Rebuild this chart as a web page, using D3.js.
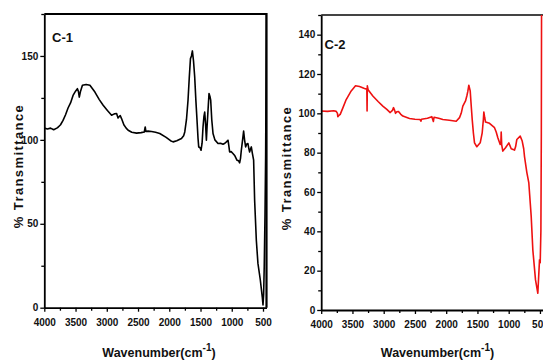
<!DOCTYPE html>
<html><head><meta charset="utf-8">
<script src="https://cdn.jsdelivr.net/npm/d3@7"></script>
<style>body{margin:0;background:#fff} svg{display:block}</style>
</head><body>
<script>
// ---- Data ----
const c1Wave = [4000,3950,3900,3850,3800,3780,3740,3700,3660,3620,3580,3540,3500,3470,3455,3440,3420,3390,3330,3270,3190,3120,3058,2990,2923,2880,2843,2820,2807,2785,2764,2727,2690,2658,2600,2524,2450,2400,2385,2375,2340,2284,2220,2152,2050,1980,1939,1880,1805,1770,1752,1725,1700,1680,1661,1645,1630,1612,1593,1575,1556,1540,1529,1510,1492,1475,1460,1445,1433,1420,1406,1395,1380,1364,1350,1337,1320,1300,1270,1220,1180,1140,1110,1086,1060,1045,1034,1010,981,950,917,890,874,860,847,830,810,795,778,760,741,725,714,700,687,670,650,634,607,581,543,512,500,490,480,468,458,450,444];
const c1Trans = [107,106.5,107,106,107,107.5,109,111.6,115,119,122,126.5,129,130.5,129,125.5,129,132.5,133,132.5,128.5,124,120.6,117.5,114.7,115.5,115.7,113,113.6,114.5,112.7,109,107,105.7,104.5,104,104.3,104.7,107.7,105,105.2,105,104.5,103.8,101.5,99.5,98.8,99.5,100.8,102.5,104.7,112,123.6,137,148.4,150,153,147,137.5,124,111.7,101,95.8,95.5,93.8,98,107.7,114,116.6,110,99.8,108,117.6,127.6,126,123.6,112,103.8,100,97.8,98,97.4,98,98.8,99.8,96,92.8,93,91.9,90.5,87.9,87.5,86.3,89,93.8,99,105.3,100,95.8,97.5,97.8,94.5,92.8,94.5,95.8,92,87.9,64,40.3,26.4,16.5,6.5,1.6,8,25,55,90,140,180];

const c2Wave = [4000,3900,3800,3760,3740,3734,3715,3696,3650,3600,3520,3451,3387,3307,3270,3266,3262,3250,3174,3090,3014,2950,2896,2860,2843,2825,2811,2790,2763,2730,2694,2587,2500,2420,2405,2395,2300,2230,2205,2195,2120,2054,1950,1840,1787,1760,1734,1691,1670,1655,1638,1616,1600,1584,1565,1547,1510,1456,1424,1405,1398,1385,1371,1307,1227,1200,1174,1136,1125,1120,1112,1094,1051,998,960,907,890,870,816,784,760,747,710,678,640,614,571,534,507,496,485,478,474];
const c2Trans = [101.2,101,101.3,101,100,98.3,99,99.5,103,107,111.4,114,113.6,112.6,112.2,101.2,114,112,108.8,106,103.7,102,100.4,101.5,102.9,101.5,100,100.8,100.9,99.6,98.6,97.4,97,96.9,96,97,97.5,98.3,95.9,98,97.5,96.9,96.5,96,97.8,100,103.7,106.3,108.8,111,114.3,111.4,104,96.9,90,85,83,85,90.1,97,100.7,98,95.6,94.9,92.7,90.5,87.6,84.2,85,90.5,84,80.8,82.5,85,82,81.3,83,86.7,88.4,85.9,82,78,70,64.6,47.6,30.6,15.3,8.5,25.5,24,40,90,160];

const xTicks = [4000,3500,3000,2500,2000,1500,1000,500];
const xMinor = [3750,3250,2750,2250,1750,1250,750];
const y1Ticks = [0,50,100,150];
const y1Minor = [25,75,125,175];
const y2Ticks = [0,20,40,60,80,100,120,140];
const y2Minor = [10,30,50,70,90,110,130,150];

const W = 543, H = 362;
const svg = d3.select("body").append("svg").attr("width", W).attr("height", H);
const narrow = "'Liberation Sans Narrow','Arial Narrow','Liberation Sans',Arial,sans-serif";
const wide = "'Liberation Sans',Arial,sans-serif";
const fmt = d3.format("d");

function panel(cfg) {
  const g = svg.append("g");
  const x = d3.scaleLinear().domain(cfg.xDomain).range(cfg.xRange);
  const y = d3.scaleLinear().domain(cfg.yDomain).range(cfg.yRange);
  const [x0, x1] = cfg.xRange, [yb, yt] = cfg.yRange;
  const clipId = "clip" + cfg.id;
  svg.append("clipPath").attr("id", clipId).append("rect")
    .attr("x", x0).attr("y", yt).attr("width", x1 - x0).attr("height", yb - yt);

  cfg.frame(g, x0, x1, yt, yb);

  const pts = cfg.wave.map((w, i) => [w, cfg.trans[i]]);
  g.append("path").datum(pts)
    .attr("clip-path", `url(#${clipId})`)
    .attr("fill", "none").attr("stroke", cfg.color).attr("stroke-width", 1.6)
    .attr("stroke-linejoin", "round")
    .attr("d", d3.line().x(d => x(d[0])).y(d => y(d[1])));

  g.append("g").attr("transform", `translate(0,${yb})`)
    .call(d3.axisBottom(x).tickValues(xMinor).tickSize(3).tickSizeOuter(0).tickFormat(""))
    .call(a => a.select(".domain").remove())
    .call(a => a.selectAll("line").attr("stroke-width", 1.3));
  g.append("g").attr("transform", `translate(0,${yb})`)
    .call(d3.axisBottom(x).tickValues(xTicks).tickSize(4).tickSizeOuter(0).tickPadding(7).tickFormat(fmt))
    .call(a => a.select(".domain").attr("stroke-width", 1.8))
    .call(a => a.selectAll("line").attr("stroke-width", 1.3))
    .call(a => a.selectAll("text").attr("font-family", narrow).attr("font-weight", "bold").attr("font-size", 10).attr("fill", "#111"));

  g.append("g").attr("transform", `translate(${x0},0)`)
    .call(d3.axisLeft(y).tickValues(cfg.yMinor).tickSize(3).tickSizeOuter(0).tickFormat(""))
    .call(a => a.select(".domain").remove())
    .call(a => a.selectAll("line").attr("stroke-width", 1.3));
  g.append("g").attr("transform", `translate(${x0},0)`)
    .call(d3.axisLeft(y).tickValues(cfg.yTicks).tickSize(4).tickSizeOuter(0).tickPadding(2).tickFormat(fmt))
    .call(a => a.select(".domain").attr("stroke-width", 1.8))
    .call(a => a.selectAll("line").attr("stroke-width", 1.3))
    .call(a => a.selectAll("text").attr("font-family", narrow).attr("font-weight", "bold").attr("font-size", 10).attr("fill", "#111"));

  g.append("text").attr("x", cfg.labelPos[0]).attr("y", cfg.labelPos[1])
    .attr("font-family", narrow).attr("font-weight", "bold").attr("font-size", 13)
    .attr("fill", "#111").text(cfg.label);

  const xt = g.append("text").attr("x", cfg.xTitlePos[0]).attr("y", cfg.xTitlePos[1])
    .attr("text-anchor", "middle").attr("font-family", narrow).attr("font-weight", "bold")
    .attr("font-size", 12.5).attr("fill", "#111");
  xt.append("tspan").text("Wavenumber(cm");
  xt.append("tspan").attr("dy", -6).attr("font-size", 10).text("-1");
  xt.append("tspan").attr("dy", 6).text(")");

  g.append("text").attr("transform", `translate(${cfg.yTitlePos[0]},${cfg.yTitlePos[1]}) rotate(-90)`)
    .attr("text-anchor", "middle").attr("font-family", wide).attr("font-weight", "bold")
    .attr("font-size", 13).attr("letter-spacing", 1.4).attr("fill", "#111")
    .text("% Transmittance");
}

panel({
  id: 1, wave: c1Wave, trans: c1Trans, color: "#000",
  xDomain: [4000, 444], xRange: [44.3, 266.5],
  yDomain: [0, 175], yRange: [307.7, 14],
  yTicks: y1Ticks, yMinor: y1Minor,
  label: "C-1", labelPos: [52, 41.5],
  xTitlePos: [159, 357], yTitlePos: [23, 166],
  frame: (g, x0, x1, yt, yb) => {
    g.append("path").attr("d", `M${x0},${yt}H${x1}V${yb}`)
      .attr("fill", "none").attr("stroke", "#000").attr("stroke-width", 2.2);
  }
});

panel({
  id: 2, wave: c2Wave, trans: c2Trans, color: "#ee1111",
  xDomain: [4000, 400], xRange: [321.2, 546.2],
  yDomain: [0, 150], yRange: [310, 15],
  yTicks: y2Ticks, yMinor: y2Minor,
  label: "C-2", labelPos: [324.5, 48.5],
  xTitlePos: [437.5, 357], yTitlePos: [291, 168],
  frame: (g, x0, x1, yt, yb) => {
    g.append("path").attr("d", `M${x0},${yt}H${x1}`)
      .attr("fill", "none").attr("stroke", "#444").attr("stroke-width", 1.8);
  }
});
</script>
</body></html>
